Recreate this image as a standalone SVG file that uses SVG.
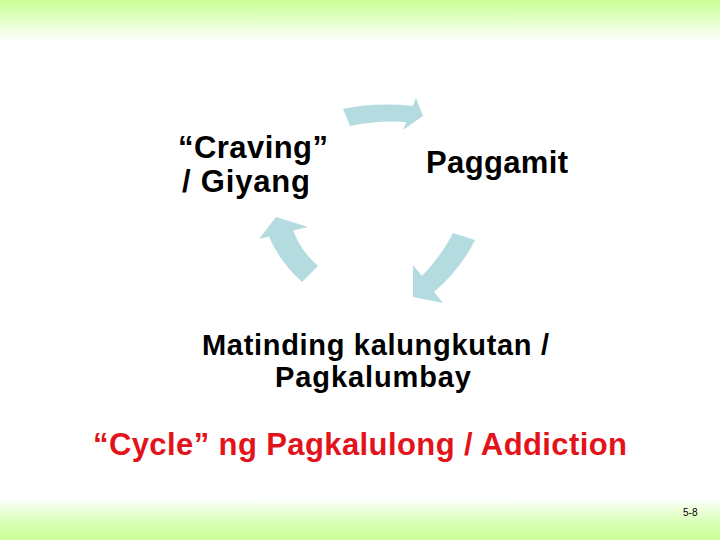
<svg xmlns="http://www.w3.org/2000/svg" width="720" height="540" viewBox="0 0 720 540">
  <defs>
    <linearGradient id="gTop" x1="0" y1="0" x2="0" y2="1">
      <stop offset="0" stop-color="#CCFF99"/>
      <stop offset="0.15" stop-color="#D0FFA4"/>
      <stop offset="1" stop-color="#FFFFFF"/>
    </linearGradient>
    <linearGradient id="gBot" x1="0" y1="0" x2="0" y2="1">
      <stop offset="0" stop-color="#FFFFFF"/>
      <stop offset="0.65" stop-color="#D4FFAC"/>
      <stop offset="1" stop-color="#CCFF99"/>
    </linearGradient>
    <style>
      .lbl { font-family: "Liberation Sans", Arial, sans-serif; font-weight: bold; fill: #000000; }
      .arrow { fill: #B4DCE0; stroke: none; }
      .title { font-family: "Liberation Sans", Arial, sans-serif; font-weight: bold; fill: #E3131B; }
      .pg { font-family: "Liberation Sans", Arial, sans-serif; font-size: 10px; fill: #000000; }
    </style>
  </defs>
  <rect x="0" y="0" width="720" height="540" fill="#FFFFFF"/>
  <rect x="0" y="0" width="720" height="42" fill="url(#gTop)"/>
  <rect x="0" y="498" width="720" height="42" fill="url(#gBot)"/>

  <g id="connectors">
    <path class="arrow" d="M343,109 Q376,102 412.75,106 L416,98 L423,116 L403,130 L406.25,122 Q378,120 350,126 Z"/>
    <path class="arrow" d="M453,233 L475,240 Q460,270 434,292 L443,303 L413,297 L413,265 L422,276 Q442,255 453,233 Z"/>
    <path class="arrow" d="M276,217 L308,227 L293.3,230.6 Q300,250 318,266 L302,282 Q280,262 268.8,236.6 L259,239 Z"/>
  </g>

  <g id="node-craving">
    <text class="lbl" x="178" y="158" font-size="31" textLength="150" lengthAdjust="spacing">“Craving”</text>
    <text class="lbl" x="182" y="192" font-size="31" textLength="128" lengthAdjust="spacing">/ Giyang</text>
  </g>
  <g id="node-paggamit">
    <text class="lbl" x="426" y="173" font-size="31" textLength="142" lengthAdjust="spacing">Paggamit</text>
  </g>
  <g id="node-matinding">
    <text class="lbl" x="202" y="355" font-size="29" textLength="347" lengthAdjust="spacing">Matinding kalungkutan /</text>
    <text class="lbl" x="275" y="387" font-size="29" textLength="196" lengthAdjust="spacing">Pagkalumbay</text>
  </g>

  <text id="title" class="title" x="93" y="455" font-size="31" textLength="534" lengthAdjust="spacing">“Cycle” ng Pagkalulong / Addiction</text>
  <text id="page-number" class="pg" x="683" y="516">5-8</text>
</svg>
